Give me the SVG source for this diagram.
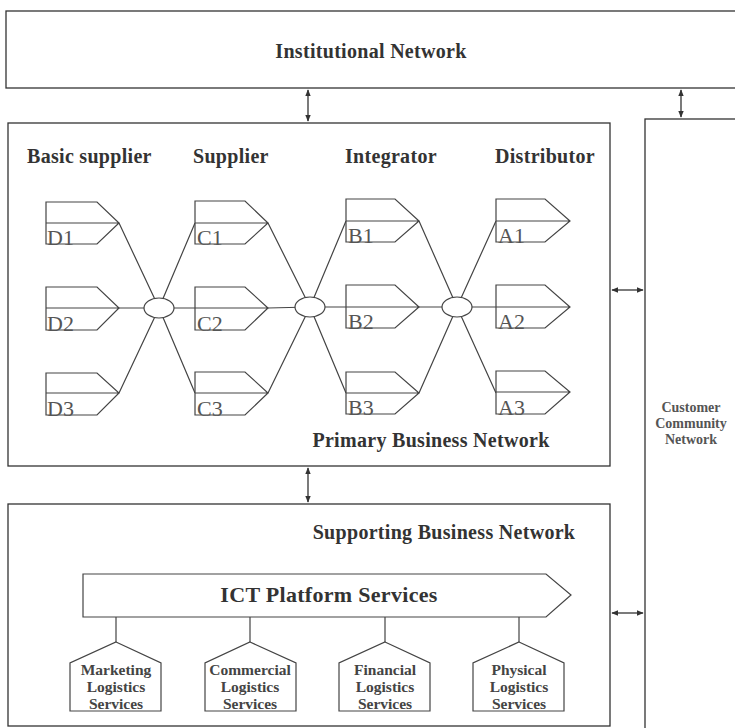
<svg xmlns="http://www.w3.org/2000/svg" width="735" height="728" viewBox="0 0 735 728">
<defs>
<marker id="ah" viewBox="0 0 10 10" refX="9" refY="5" markerWidth="7" markerHeight="7" orient="auto-start-reverse" markerUnits="userSpaceOnUse">
<path d="M0,1 L10,5 L0,9 Z" fill="#333"/>
</marker>
<style>
.box{fill:none;stroke:#333;stroke-width:1.3}
.tag{fill:#fff;stroke:#444;stroke-width:1.2}
.ln{fill:none;stroke:#444;stroke-width:1.2}
.arr{fill:none;stroke:#333;stroke-width:1.3;marker-start:url(#ah);marker-end:url(#ah)}
.h{font-family:"Liberation Serif",serif;font-weight:bold;font-size:20px;letter-spacing:0.3px;fill:#333}
.lbl{font-family:"Liberation Serif",serif;font-size:22px;fill:#555}
.sv{font-family:"Liberation Serif",serif;font-weight:bold;font-size:15.5px;fill:#444;text-anchor:middle}
.cc{font-family:"Liberation Serif",serif;font-weight:bold;font-size:14px;fill:#555;text-anchor:middle}
</style>
</defs>
<rect width="735" height="728" fill="#fff"/>

<g id="institutional">
<rect class="box" x="6" y="11" width="740" height="77"/>
<text class="h" x="371" y="58" text-anchor="middle">Institutional Network</text>
</g>

<g id="customer">
<rect class="box" x="645" y="119" width="100" height="620"/>
<text class="cc" x="691" y="412">Customer</text>
<text class="cc" x="691" y="428">Community</text>
<text class="cc" x="691" y="444">Network</text>
</g>

<g id="primary">
<rect class="box" x="8" y="123" width="602" height="343"/>
<text class="h" x="27" y="163">Basic supplier</text>
<text class="h" x="193" y="163">Supplier</text>
<text class="h" x="345" y="163">Integrator</text>
<text class="h" x="495" y="163">Distributor</text>
<text class="h" x="431" y="447" text-anchor="middle">Primary Business Network</text>
</g>

<g id="supporting">
<rect class="box" x="8" y="504" width="602" height="222"/>
<text class="h" x="444" y="539" text-anchor="middle">Supporting Business Network</text>
</g>

<g id="connectors">
<line class="arr" x1="308" y1="90" x2="308" y2="121"/>
<line class="arr" x1="681" y1="90" x2="681" y2="117"/>
<line class="arr" x1="308" y1="468" x2="308" y2="502"/>
<line class="arr" x1="612" y1="290" x2="643" y2="290"/>
<line class="arr" x1="612" y1="613" x2="643" y2="613"/>
<path class="ln" d="M119,223 L159,308 M119,308 L159,308 M119,393 L159,308 M195,223 L159,308 M195,308 L159,308 M195,393 L159,308"/>
<path class="ln" d="M268,223 L310,307 M268,308 L310,307 M268,393 L310,307 M346,221 L310,307 M346,307 L310,307 M346,393 L310,307"/>
<path class="ln" d="M419,221 L457,307 M419,307 L457,307 M419,393 L457,307 M496,221 L457,307 M496,307 L457,307 M496,393 L457,307"/>
<path class="ln" d="M116,617 V642 M250,617 V642 M385,617 V642 M519,617 V642"/>
</g>

<g id="hub1"><ellipse class="tag" cx="159" cy="308" rx="15" ry="10"/></g>
<g id="hub2"><ellipse class="tag" cx="310" cy="307" rx="15" ry="10"/></g>
<g id="hub3"><ellipse class="tag" cx="457" cy="307" rx="15" ry="10"/></g>

<g id="D1"><path class="tag" d="M46,202 H97 L119,223 L97,244 H46 Z M46,223 H119"/><text class="lbl" x="47" y="245">D1</text></g>
<g id="D2"><path class="tag" d="M46,287 H97 L119,308 L97,330 H46 Z M46,308 H119"/><text class="lbl" x="47" y="331">D2</text></g>
<g id="D3"><path class="tag" d="M46,373 H97 L119,393 L97,415 H46 Z M46,393 H119"/><text class="lbl" x="47" y="416">D3</text></g>

<g id="C1"><path class="tag" d="M195,201 H245 L268,223 L245,244 H195 Z M195,223 H268"/><text class="lbl" x="197" y="245">C1</text></g>
<g id="C2"><path class="tag" d="M195,287 H245 L268,308 L245,330 H195 Z M195,308 H268"/><text class="lbl" x="197" y="331">C2</text></g>
<g id="C3"><path class="tag" d="M195,372 H245 L268,393 L245,415 H195 Z M195,393 H268"/><text class="lbl" x="197" y="416">C3</text></g>

<g id="B1"><path class="tag" d="M346,199 H395 L419,221 L395,242 H346 Z M346,221 H419"/><text class="lbl" x="348" y="243">B1</text></g>
<g id="B2"><path class="tag" d="M346,285 H395 L419,307 L395,328 H346 Z M346,307 H419"/><text class="lbl" x="348" y="329">B2</text></g>
<g id="B3"><path class="tag" d="M346,372 H395 L419,393 L395,414 H346 Z M346,393 H419"/><text class="lbl" x="348" y="415">B3</text></g>

<g id="A1"><path class="tag" d="M496,199 H545 L570,221 L545,242 H496 Z M496,221 H570"/><text class="lbl" x="498" y="243">A1</text></g>
<g id="A2"><path class="tag" d="M496,285 H545 L570,307 L545,328 H496 Z M496,307 H570"/><text class="lbl" x="498" y="329">A2</text></g>
<g id="A3"><path class="tag" d="M496,371 H545 L570,392 L545,414 H496 Z M496,392 H570"/><text class="lbl" x="498" y="415">A3</text></g>

<g id="ict">
<path class="tag" d="M83,574 H546 L571,595 L546,617 H83 Z"/>
<text class="h" x="329" y="602" text-anchor="middle" style="font-size:22px">ICT Platform Services</text>
</g>

<g id="marketing">
<path class="tag" d="M116,642 L161,663 V711 H70 V663 Z"/>
<text class="sv" x="116" y="675">Marketing</text><text class="sv" x="116" y="692">Logistics</text><text class="sv" x="116" y="709">Services</text>
</g>
<g id="commercial">
<path class="tag" d="M250,642 L296,663 V711 H205 V663 Z"/>
<text class="sv" x="250" y="675">Commercial</text><text class="sv" x="250" y="692">Logistics</text><text class="sv" x="250" y="709">Services</text>
</g>
<g id="financial">
<path class="tag" d="M385,642 L430,663 V711 H339 V663 Z"/>
<text class="sv" x="385" y="675">Financial</text><text class="sv" x="385" y="692">Logistics</text><text class="sv" x="385" y="709">Services</text>
</g>
<g id="physical">
<path class="tag" d="M519,642 L564,663 V711 H473 V663 Z"/>
<text class="sv" x="519" y="675">Physical</text><text class="sv" x="519" y="692">Logistics</text><text class="sv" x="519" y="709">Services</text>
</g>
</svg>
